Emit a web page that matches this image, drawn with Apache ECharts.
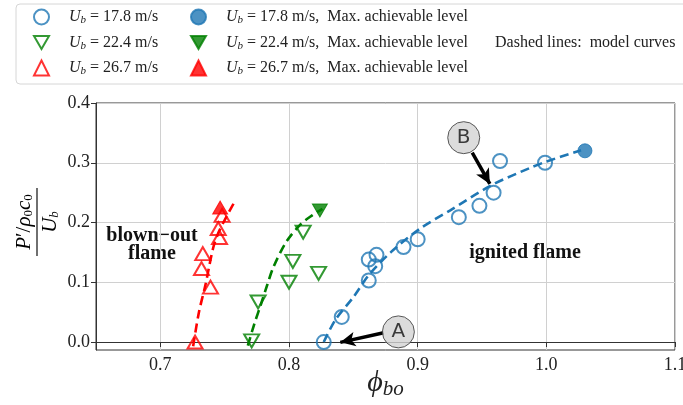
<!DOCTYPE html>
<html><head><meta charset="utf-8">
<script src="https://cdn.jsdelivr.net/npm/echarts@6/dist/echarts.min.js"></script>
<style>html,body{margin:0;padding:0;background:#fff}#c{width:683px;height:405px}</style>
</head><body><div id="c"></div>
<script>
// ---- tick labels ----
const xTicks = [0.7, 0.8, 0.9, 1.0, 1.1];
const yTicks = [0.0, 0.1, 0.2, 0.3, 0.4];
// ---- measured points [phi_bo, P'/(rho0 c0)/Ub] ----
const blueOpen  = [[0.827,0.000],[0.841,0.042],[0.862,0.103],[0.862,0.138],[0.867,0.127],[0.868,0.146],[0.889,0.159],[0.900,0.172],[0.932,0.209],[0.948,0.228],[0.959,0.250],[0.964,0.303],[0.999,0.300]];
const blueMax   = [[1.030,0.320]];
const greenOpen = [[0.771,0.002],[0.776,0.067],[0.800,0.100],[0.803,0.135],[0.811,0.184],[0.823,0.115]];
const greenMax  = [[0.824,0.220]];
const redOpen   = [[0.727,0.000],[0.739,0.092],[0.732,0.123],[0.733,0.148],[0.745,0.190],[0.746,0.175],[0.748,0.212]];
const redMax    = [[0.7465,0.225]];
// ---- model curves (dashed) ----
const blueCurve  = [[0.827,0.000],[0.836,0.037],[0.850,0.075],[0.862,0.112],[0.879,0.150],[0.902,0.190],[0.925,0.220],[0.957,0.262],[0.988,0.292],[1.000,0.302],[1.027,0.321]];
const greenCurve = [[0.768,-0.006],[0.773,0.030],[0.778,0.062],[0.783,0.095],[0.788,0.126],[0.798,0.168],[0.809,0.197],[0.818,0.212],[0.826,0.223]];
const redCurve   = [[0.7255,-0.007],[0.730,0.050],[0.735,0.095],[0.741,0.157],[0.745,0.182],[0.749,0.200],[0.757,0.232]];
// ---- annotations ----
const markerLabels = ['A', 'B'];
const markerPos = [[0.885,0.017],[0.9358,0.342]];
const arrowA = [[0.8736,0.0155],[0.8399,-0.0005]];
const arrowB = [[0.9424,0.317],[0.9561,0.2645]];

const SERIF = "'Liberation Serif','DejaVu Serif',serif";
const BLUE = '#1f77b4', GREEN = '#008000', RED = '#ff0000';
const DOWN_TRI = 'path://M0,0L20,0L10,17.3Z';

const richLeg = {
  sp: {width: 15, fontSize: 16, lineHeight: 20},
  it: {fontFamily: SERIF, fontStyle: 'italic', fontSize: 16, lineHeight: 20, color: '#222'},
  s:  {fontFamily: SERIF, fontStyle: 'italic', fontSize: 11, padding: [7,0,0,0], lineHeight: 20, color: '#222'},
  rm: {fontFamily: SERIF, fontSize: 16, lineHeight: 20, color: '#222'}
};
const legNames = {
  o17: '{sp| }{it|U}{s|b}{rm| = 17.8 m/s}',
  o22: '{sp| }{it|U}{s|b}{rm| = 22.4 m/s}',
  o26: '{sp| }{it|U}{s|b}{rm| = 26.7 m/s}',
  f17: '{sp| }{it|U}{s|b}{rm| = 17.8 m/s,  Max. achievable level}',
  f22: '{sp| }{it|U}{s|b}{rm| = 22.4 m/s,  Max. achievable level}',
  f26: '{sp| }{it|U}{s|b}{rm| = 26.7 m/s,  Max. achievable level}'
};

function openSeries(name, data, color, symbol, size) {
  return {name, type: 'scatter', data, symbol, symbolSize: size, z: 5,
    itemStyle: {color: 'rgba(255,255,255,0)', borderColor: color, borderWidth: 2}};
}
function fullSeries(name, data, color, symbol, size) {
  return {name, type: 'scatter', data, symbol, symbolSize: size, z: 6,
    itemStyle: {color: color, borderColor: color, borderWidth: 1}};
}
function curve(name, data, color) {
  return {name, type: 'line', data, showSymbol: false, smooth: 0.3, z: 3,
    lineStyle: {color, width: 2.6, type: [9, 5]}};
}

const chart = echarts.init(document.getElementById('c'), null, {renderer: 'canvas'});
const legendBase = {
  orient: 'vertical', top: 8, padding: 0, itemWidth: 15, itemHeight: 15, itemGap: 7.5,
  formatter: n => legNames[n], textStyle: {rich: richLeg, fontFamily: SERIF, fontSize: 16},
  selectedMode: false
};
chart.setOption({
  animation: false,
  backgroundColor: '#fff',
  grid: {left: 96, right: 8, top: 103, bottom: 55, show: true, borderColor: '#333', borderWidth: 1, outerBoundsMode: 'none'},
  legend: [
    Object.assign({}, legendBase, {left: 33, data: ['o17', {name: 'o22', icon: DOWN_TRI}, 'o26']}),
    Object.assign({}, legendBase, {left: 190, data: ['f17', {name: 'f22', icon: DOWN_TRI}, 'f26']})
  ],
  xAxis: {
    type: 'value', min: 0.65, max: 1.1,
    axisLine: {show: true, lineStyle: {color: '#333', width: 1}},
    axisTick: {show: true, inside: false, length: 5, customValues: xTicks, lineStyle: {color: '#333'}},
    axisLabel: {customValues: xTicks, formatter: v => v.toFixed(1), fontFamily: SERIF, fontSize: 18, color: '#222', margin: 6},
    splitLine: {show: true, lineStyle: {color: '#d0d0d0', width: 1}},
    name: '{p|ϕ}{s|bo}', nameLocation: 'middle', nameGap: 16, nameMoveOverlap: false,
    nameTextStyle: {rich: {
      p: {fontFamily: SERIF, fontStyle: 'italic', fontSize: 30, color: '#222', lineHeight: 34},
      s: {fontFamily: SERIF, fontStyle: 'italic', fontSize: 21, color: '#222', padding: [12,0,0,0], lineHeight: 34}
    }}
  },
  yAxis: {
    type: 'value', min: -0.0133, max: 0.4,
    axisLine: {show: true, lineStyle: {color: '#333', width: 1}},
    axisTick: {show: true, inside: false, length: 5, customValues: yTicks, lineStyle: {color: '#333'}},
    axisLabel: {customValues: yTicks, formatter: v => v.toFixed(1), fontFamily: SERIF, fontSize: 18, color: '#222', margin: 6},
    splitLine: {show: true, lineStyle: {color: '#d0d0d0', width: 1}}
  },
  series: [
    curve('c17', blueCurve, BLUE),
    curve('c22', greenCurve, GREEN),
    curve('c26', redCurve, RED),
    openSeries('o17', blueOpen, BLUE, 'circle', 14),
    openSeries('o22', greenOpen, GREEN, DOWN_TRI, [15, 13]),
    openSeries('o26', redOpen, RED, 'triangle', [15, 13]),
    fullSeries('f17', blueMax, BLUE, 'circle', 14),
    fullSeries('f22', greenMax, GREEN, DOWN_TRI, [15, 13]),
    fullSeries('f26', redMax, RED, 'triangle', [15, 13]),
    {
      name: 'annot', type: 'scatter', z: 10, symbol: 'circle', symbolSize: 32,
      data: markerPos.map((p, i) => ({value: p, name: markerLabels[i]})),
      itemStyle: {color: '#d3d3d3', borderColor: '#333', borderWidth: 1},
      label: {show: true, position: 'inside', formatter: p => p.name, fontFamily: "'DejaVu Sans',sans-serif", fontSize: 20, color: '#111'},
      markLine: {
        silent: true, symbol: ['none', 'arrow'], symbolSize: [11, 15], z: 9,
        label: {show: false},
        lineStyle: {color: '#000', width: 3.5, type: 'solid'},
        data: [
          [{coord: arrowA[0]}, {coord: arrowA[1]}],
          [{coord: arrowB[0]}, {coord: arrowB[1]}]
        ]
      }
    }
  ],
  graphic: [
    {type: 'rect', shape: {x: 16, y: 4, width: 690, height: 80, r: 4}, z: -1,
      style: {fill: 'rgba(255,255,255,0)', stroke: '#d6d6d6', lineWidth: 1}},
    {type: 'text', x: 495, y: 43, style: {text: 'Dashed lines:  model curves', font: "16px 'Liberation Serif', serif", fill: '#222', verticalAlign: 'middle'}},
    {type: 'text', x: 152, y: 245, style: {text: 'blown−out\nflame', font: "bold 20px 'Liberation Serif', serif", fill: '#111', align: 'center', verticalAlign: 'middle', lineHeight: 18}},
    {type: 'text', x: 525, y: 253, style: {text: 'ignited flame', font: "bold 20px 'Liberation Serif', serif", fill: '#111', align: 'center', verticalAlign: 'middle'}},
    {type: 'group', x: 37, y: 222, rotation: Math.PI / 2, children: [
      {type: 'text', x: 0, y: -2, style: {
        text: '{it|P}{rm|′/}{it|ρ}{s|0}{it|c}{s|0}', align: 'center', verticalAlign: 'bottom',
        rich: {
          it: {fontFamily: SERIF, fontStyle: 'italic', fontSize: 21, color: '#222'},
          rm: {fontFamily: SERIF, fontSize: 21, color: '#222'},
          s: {fontFamily: SERIF, fontSize: 13, color: '#222', padding: [8,0,0,0]}
        }}},
      {type: 'line', shape: {x1: -34, y1: 0, x2: 34, y2: 0}, style: {stroke: '#222', lineWidth: 1.3}},
      {type: 'text', x: 0, y: 3, style: {
        text: '{it|U}{s|b}', align: 'center', verticalAlign: 'top',
        rich: {
          it: {fontFamily: SERIF, fontStyle: 'italic', fontSize: 21, color: '#222'},
          s: {fontFamily: SERIF, fontStyle: 'italic', fontSize: 13, color: '#222', padding: [8,0,0,0]}
        }}}
    ]}
  ]
});
</script>
</body></html>
